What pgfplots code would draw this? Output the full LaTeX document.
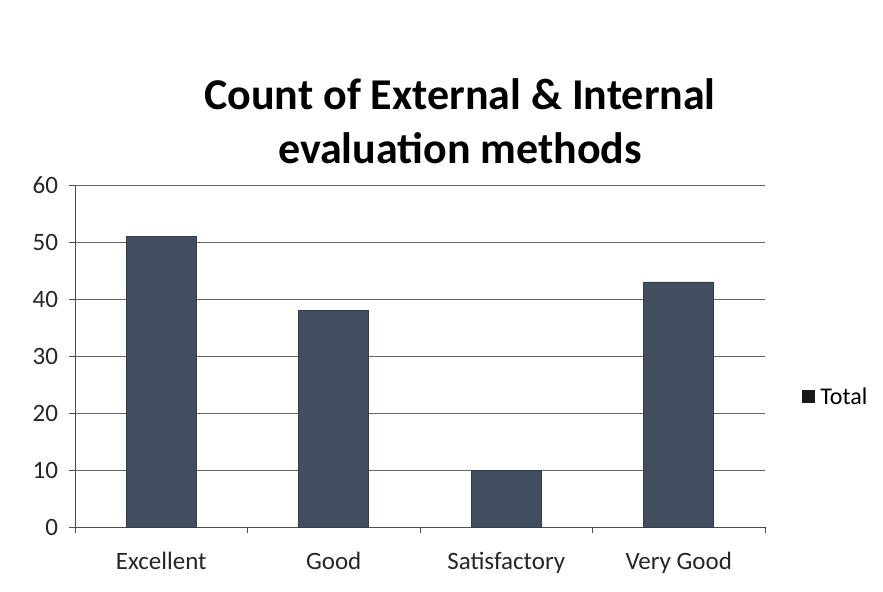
\documentclass[border=0pt]{standalone}
\usepackage{pgfplots}
\pgfplotsset{compat=1.18}
\usepackage{fontspec}
\setmainfont{Carlito}
\definecolor{barc}{HTML}{404E60}
\begin{document}
\begin{tikzpicture}[x=1pt,y=1pt]
\path[use as bounding box] (0,0) rectangle (441.5,295.5);
\begin{axis}[
  at={(37.5pt,32pt)}, anchor=south west,
  scale only axis, width=345pt, height=171pt,
  xmin=-0.5, xmax=3.5, ymin=0, ymax=60,
  ytick={0,10,...,60},
  xtick={0,1,2,3},
  xticklabels={Excellent,Good,Satisfactory,Very Good},
  minor xtick={-0.5,0.5,1.5,2.5,3.5},
  major x tick style={draw=none},
  minor x tick style={black!70},
  y tick style={black!70},
  tick align=outside,
  major tick length=3pt, minor tick length=3pt,
  axis x line*=bottom, axis y line*=left,
  axis line style={black!70, -},
  ymajorgrids, grid style={black!60, line width=0.5pt},
  tick label style={font=\fontsize{12.5}{14}\selectfont, black!85},
  /pgf/number format/assume math mode=true,
  yticklabel style={xshift=-2pt},
  xticklabel style={yshift=-6pt},
]
\addplot[ybar, bar width=35pt, fill=barc, draw=barc!80!black] coordinates {(0,51) (1,38) (2,10) (3,43)};
\end{axis}
\node[align=center, font=\fontsize{22}{27}\bfseries\selectfont] at (230,235) {Count of External \& Internal\\evaluation methods};
\fill[black!90] (401,94) rectangle (407.5,100.5);
\node[anchor=west, font=\fontsize{12}{14}\selectfont, inner sep=0pt] at (410,97.3) {Total};
\end{tikzpicture}
\end{document}
